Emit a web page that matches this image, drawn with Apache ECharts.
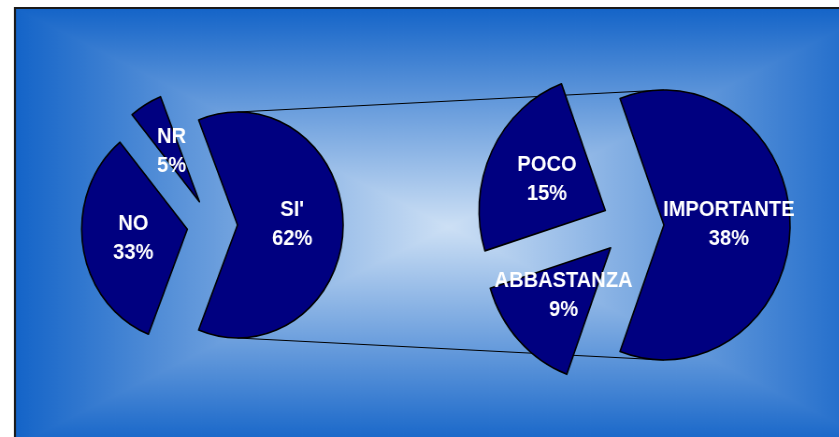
<!DOCTYPE html>
<html>
<head>
<meta charset="utf-8">
<script src="https://cdn.jsdelivr.net/npm/echarts@6/dist/echarts.min.js"></script>
<style>
  html, body { margin: 0; padding: 0; background: #ffffff; overflow: hidden; }
  #wrap { width: 839px; height: 437px; overflow: hidden; }
  /* the drawing is laid out wider and squeezed horizontally */
  #chart { width: 898px; height: 437px; transform: scaleX(0.935); transform-origin: 0 0; }
</style>
</head>
<body>
<div id="wrap"><div id="chart"></div></div>
<script>
// main answer split
const mainCategories = ["SI'", 'NO', 'NR'];
const mainValues = [62, 33, 5];
// breakdown of the SI' share (percent of total)
const detailCategories = ['IMPORTANTE', 'ABBASTANZA', 'POCO'];
const detailValues = [38, 9, 15];

const chart = echarts.init(document.getElementById('chart'), null, { renderer: 'canvas' });

// pie geometry
const cy = 225;
const leftC = 227, leftR = 113, leftOff = 27;
const rightC = 677, rightR = 135, rightOff = 33;

function sumOf(a) { return a.reduce((s, v) => s + v, 0); }
// first slice is centred on the positive x axis
const leftStart = 360 * mainValues[0] / sumOf(mainValues) / 2;
const rightStart = 360 * detailValues[0] / sumOf(detailValues) / 2;

// labels sit halfway out along each (exploded) slice's bisector
function labelAnchors(values, cx, r, off, start) {
  const total = sumOf(values);
  let acc = 0;
  return values.map(v => {
    const midDeg = start - (acc + v / 2) / total * 360;
    acc += v;
    const a = midDeg * Math.PI / 180;
    const d = off + r / 2 + 2;
    return { x: cx + d * Math.cos(a), y: cy - d * Math.sin(a) };
  });
}
const anchors = [
  labelAnchors(mainValues, leftC, leftR, leftOff, leftStart),
  labelAnchors(detailValues, rightC, rightR, rightOff, rightStart)
];

const edge = '#1464c8';
const mid = '#cde0f5';
const hGrad = new echarts.graphic.LinearGradient(0, 0, 1, 0, [
  { offset: 0, color: edge }, { offset: 0.5, color: mid }, { offset: 1, color: edge }
]);
const vGrad = new echarts.graphic.LinearGradient(0, 0, 0, 1, [
  { offset: 0, color: edge }, { offset: 0.5, color: mid }, { offset: 1, color: edge }
]);

const labelStyle = {
  show: true,
  position: 'inside',
  formatter: '{b}\n{c}%',
  color: '#ffffff',
  fontFamily: '"Liberation Sans", Arial, sans-serif',
  fontWeight: 'bold',
  fontSize: 21.5,
  lineHeight: 29,
  align: 'center'
};
const sliceStyle = { color: '#000080', borderColor: '#000000', borderWidth: 1.6 };

// exploded slices
function pieSeries(names, values, cx, r, off, start) {
  return {
    type: 'pie',
    center: [cx, cy],
    radius: [0, r],
    startAngle: start,
    clockwise: true,
    selectedMode: 'multiple',
    selectedOffset: off,
    itemStyle: sliceStyle,
    label: { show: false },
    labelLine: { show: false },
    emphasis: { disabled: true },
    select: { itemStyle: sliceStyle },
    data: names.map((n, i) => ({ name: n, value: values[i], selected: true })),
    z: 3
  };
}

// transparent copy of each pie carrying the slice labels
function labelSeries(idx, names, values, cx, r, start) {
  return {
    type: 'pie',
    center: [cx, cy],
    radius: [0, r],
    startAngle: start,
    clockwise: true,
    silent: true,
    selectedMode: false,
    avoidLabelOverlap: false,
    itemStyle: { color: 'rgba(0,0,0,0)', borderWidth: 0 },
    label: labelStyle,
    labelLine: { show: false },
    emphasis: { disabled: true },
    labelLayout: function (p) {
      const pt = anchors[idx][p.dataIndex];
      return { x: pt.x, y: pt.y, align: 'center', verticalAlign: 'middle', hideOverlap: false };
    },
    data: names.map((n, i) => ({ name: n, value: values[i] })),
    z: 4
  };
}

// connector lines from the SI' slice to the breakdown pie
const lx = leftC + leftOff, rx = rightC + rightOff;

chart.setOption({
  animation: false,
  backgroundColor: '#ffffff',
  graphic: [
    { type: 'rect', z: 0, shape: { x: 16, y: 8, width: 928, height: 438 }, style: { fill: hGrad } },
    { type: 'rect', z: 1, shape: { x: 16, y: 8, width: 928, height: 438 }, style: { fill: vGrad, blend: 'darken' } },
    { type: 'rect', z: 2, shape: { x: 16, y: 8, width: 1000, height: 600 }, style: { fill: 'none', stroke: '#1a1a1a', lineWidth: 2.2 } },
    { type: 'line', z: 2, shape: { x1: lx, y1: cy - leftR, x2: rx, y2: cy - rightR }, style: { stroke: '#000000', lineWidth: 1 } },
    { type: 'line', z: 2, shape: { x1: lx, y1: cy + leftR, x2: rx, y2: cy + rightR }, style: { stroke: '#000000', lineWidth: 1 } }
  ],
  series: [
    pieSeries(mainCategories, mainValues, leftC, leftR, leftOff, leftStart),
    pieSeries(detailCategories, detailValues, rightC, rightR, rightOff, rightStart),
    labelSeries(0, mainCategories, mainValues, leftC, leftR, leftStart),
    labelSeries(1, detailCategories, detailValues, rightC, rightR, rightStart)
  ]
});
</script>
</body>
</html>
